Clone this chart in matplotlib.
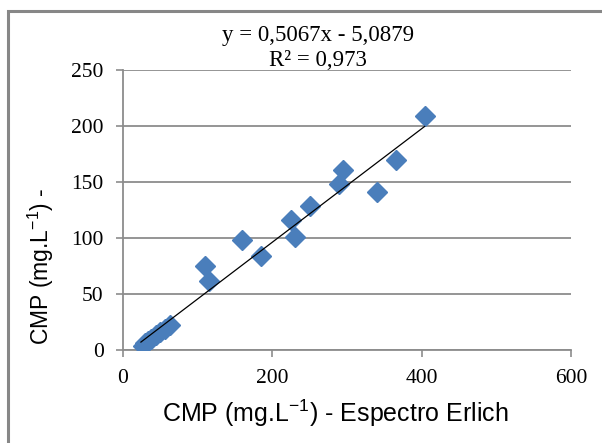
import numpy as np
import matplotlib
matplotlib.use("Agg")
from matplotlib import pyplot as plt
from matplotlib.patches import Rectangle

plt.rcParams["mathtext.fontset"] = "custom"
plt.rcParams["mathtext.rm"] = "Liberation Sans"
plt.rcParams["mathtext.it"] = "Liberation Sans"

# CMP values
x_erlich = [404, 366, 340, 295, 289, 250, 225, 230, 160, 185, 110, 115,
            27, 30, 34, 38, 44, 50, 56, 63]
y_method = [209, 170, 141, 161, 148, 129, 116, 101, 98, 84, 75, 62,
            4, 6, 8, 10, 13, 16, 19, 22]
slope, intercept, r2 = 0.5067, -5.0879, 0.973

x_ticks = [0, 200, 400, 600]
y_ticks = [0, 50, 100, 150, 200, 250]

W, H = 602, 443
fig = plt.figure(figsize=(W / 100, H / 100), dpi=100)
fig.patch.set_facecolor("white")
fig.patches.append(Rectangle((8 / W, -0.1), 1.2, 1.1 - 11 / H,
                             transform=fig.transFigure, fill=False,
                             ec="#878787", lw=2.2))

ax = fig.add_axes([123 / W, 1 - 350 / H, (571 - 123) / W, (350 - 70) / H])
ax.set_xlim(0, 600)
ax.set_ylim(0, 250)
ax.set_xticks(x_ticks)
ax.set_yticks(y_ticks)
ax.yaxis.grid(True, color="#8c8c8c", lw=1.3)
ax.set_axisbelow(True)
for s in ["top", "right"]:
    ax.spines[s].set_visible(False)
for s in ["left", "bottom"]:
    ax.spines[s].set_color("#8c8c8c")
    ax.spines[s].set_linewidth(1.3)
ax.tick_params(direction="out", length=5, color="#8c8c8c", width=1.2,
               labelsize=15.5, pad=9)
for lab in ax.get_xticklabels() + ax.get_yticklabels():
    lab.set_fontfamily("Liberation Serif")

ax.plot(x_erlich, y_method, "D", color="#4a7ebb", ms=10, mec="#4a7ebb",
        zorder=3)
xl = np.array([min(x_erlich) - 3, max(x_erlich)])
ax.plot(xl, slope * xl + intercept, color="black", lw=0.9, zorder=4)

eq = "y = {}x - {}".format(f"{slope:.4f}".replace(".", ","),
                           f"{-intercept:.4f}".replace(".", ","))
fig.text(318 / W, 1 - 35 / H, eq, ha="center", va="center",
         family="Liberation Serif", fontsize=16.5)
fig.text(318 / W, 1 - 61 / H, "R² = " + f"{r2:.3f}".replace(".", ","),
         ha="center", va="center", family="Liberation Serif", fontsize=16.5)

fig.text(335 / W, 1 - 413 / H, "CMP (mg.L$^{\\mathrm{-1}}$) - Espectro Erlich",
         ha="center", va="center", family="Liberation Sans", fontsize=18)
fig.text(41 / W, 1 - 266 / H, "CMP (mg.L$^{\\mathrm{-1}}$) -", rotation=90,
         ha="center", va="center", family="Liberation Sans", fontsize=16.5)

fig.savefig("out.png", dpi=100)
